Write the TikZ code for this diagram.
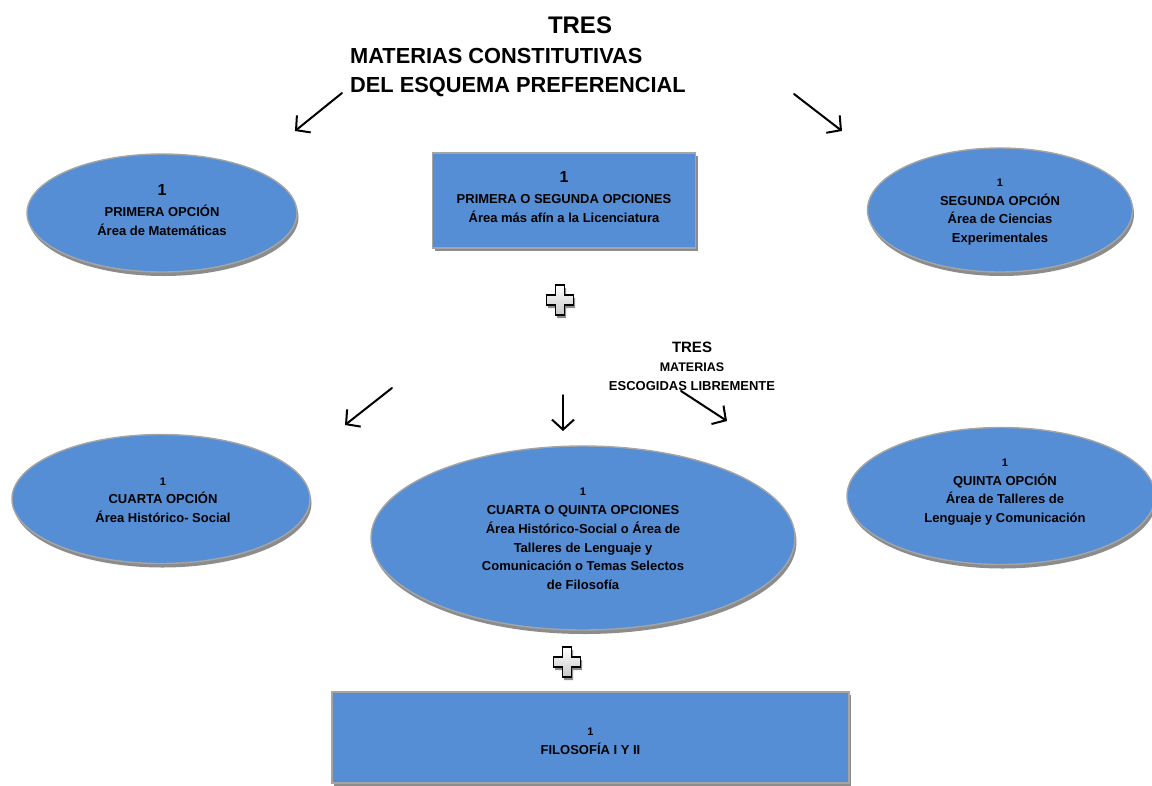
\documentclass[tikz,border=0pt]{standalone}
\usepackage{fontspec}
\setmainfont{Liberation Sans}
\usetikzlibrary{shapes.geometric,shadows,arrows.meta}
\definecolor{boxblue}{RGB}{85,142,213}
\definecolor{edgegray}{RGB}{165,165,165}
\definecolor{shadowgray}{RGB}{140,140,140}
\tikzset{
  blob/.style={ellipse, fill=boxblue, draw=edgegray, line width=1.4pt, inner sep=0pt,
    drop shadow={shadow xshift=1.5pt, shadow yshift=-4pt, fill=shadowgray, opacity=1}},
  boxr/.style={rectangle, fill=boxblue, draw=edgegray, line width=1.4pt, inner sep=0pt,
    drop shadow={shadow xshift=2pt, shadow yshift=-3pt, fill=shadowgray, opacity=1}},
  txt/.style={align=center, inner sep=0pt, font=\bfseries\fontsize{13}{18.7}\selectfont},
  arr/.style={-{Straight Barb[length=10pt,width=22pt,line width=2pt]}, line width=2pt, line cap=round},
  plussign/.pic={
    \fill[shadowgray, shift={(1.5,3)}] (-4.5,-15) -- (4.5,-15) -- (4.5,-5) -- (13.5,-5) -- (13.5,5) -- (4.5,5) -- (4.5,15) -- (-4.5,15) -- (-4.5,5) -- (-13.5,5) -- (-13.5,-5) -- (-4.5,-5) -- cycle;
    \draw[line width=1.4pt, top color=white, bottom color=black!22] (-4.5,-15) -- (4.5,-15) -- (4.5,-5) -- (13.5,-5) -- (13.5,5) -- (4.5,5) -- (4.5,15) -- (-4.5,15) -- (-4.5,5) -- (-13.5,5) -- (-13.5,-5) -- (-4.5,-5) -- cycle;
  }
}
\begin{document}
\begin{tikzpicture}[x=1pt,y=-1pt]
\useasboundingbox (0,0) rectangle (1152,785);

% title
\node[inner sep=0pt, font=\bfseries\fontsize{24}{26}\selectfont] (tres) at (580,25) {TRES};
\node[anchor=west, inner sep=0pt, font=\bfseries\fontsize{21.8}{24}\selectfont] (mat) at (350,56) {MATERIAS CONSTITUTIVAS};
\node[anchor=west, inner sep=0pt, font=\bfseries\fontsize{21.8}{24}\selectfont] (del) at (350,87) {DEL ESQUEMA PREFERENCIAL};

% top arrows
\coordinate (a1s) at (342,93); \coordinate (a1e) at (295,131);
\coordinate (a2s) at (794,94); \coordinate (a2e) at (842,131);
\draw[arr] (a1s) -- (a1e);
\draw[arr] (a2s) -- (a2e);

% top row
\node[blob, minimum width=270pt, minimum height=118pt] (e1) at (162,213) {};
\node[txt] (t1) at (162,210) {{\fontsize{16}{16}\selectfont 1}\\[3pt] PRIMERA OPCIÓN\\ Área de Matemáticas};

\node[boxr, minimum width=263pt, minimum height=95pt] (r1) at (564,200.5) {};
\node[txt] (tr1) at (564,197) {{\fontsize{16}{16}\selectfont 1}\\[2pt] PRIMERA O SEGUNDA OPCIONES\\ Área más afín a la Licenciatura};

\node[blob, minimum width=265pt, minimum height=124pt] (e2) at (1000,210) {};
\node[txt] (t2) at (1000,212) {{\fontsize{11}{11}\selectfont 1}\\ SEGUNDA OPCIÓN\\ Área de Ciencias\\ Experimentales};

% plus 1
\pic (p1) at (560,300) {plussign};

% middle label
\node[inner sep=0pt, font=\bfseries\fontsize{15}{17}\selectfont] (tres2) at (692,347) {TRES};
\node[inner sep=0pt, font=\bfseries\fontsize{12.5}{14}\selectfont] (mat2) at (692,367) {MATERIAS};
\node[inner sep=0pt, font=\bfseries\fontsize{13}{15}\selectfont] (esc2) at (692,386) {ESCOGIDAS LIBREMENTE};

% middle arrows
\coordinate (b1s) at (392,388); \coordinate (b1e) at (345,425);
\coordinate (b2s) at (563,395); \coordinate (b2e) at (563,431);
\coordinate (b3s) at (681,391); \coordinate (b3e) at (727,421);
\draw[arr] (b1s) -- (b1e);
\draw[arr] (b2s) -- (b2e);
\draw[arr] (b3s) -- (b3e);

% second row
\node[blob, minimum width=298pt, minimum height=129pt] (e3) at (161,499) {};
\node[txt] (t3) at (163,500) {{\fontsize{11}{11}\selectfont 1}\\ CUARTA OPCIÓN\\ Área Histórico- Social};

\node[blob, minimum width=424pt, minimum height=184pt] (e4) at (583,538) {};
\node[txt] (t4) at (583,539) {{\fontsize{11}{11}\selectfont 1}\\ CUARTA O QUINTA OPCIONES\\ Área Histórico-Social o Área de\\ Talleres de Lenguaje y\\ Comunicación o Temas Selectos\\ de Filosofía};

\node[blob, minimum width=308pt, minimum height=137pt] (e5) at (1001,496) {};
\node[txt] (t5) at (1005,492) {{\fontsize{11}{11}\selectfont 1}\\ QUINTA OPCIÓN\\ Área de Talleres de\\ Lenguaje y Comunicación};

% plus 2
\pic (p2) at (567,662) {plussign};

% bottom box
\node[boxr, minimum width=517pt, minimum height=91pt] (r2) at (590.5,737.5) {};
\node[txt] (tr2) at (590.5,741) {{\fontsize{11}{11}\selectfont 1}\\ FILOSOFÍA I Y II};
\end{tikzpicture}
\end{document}
